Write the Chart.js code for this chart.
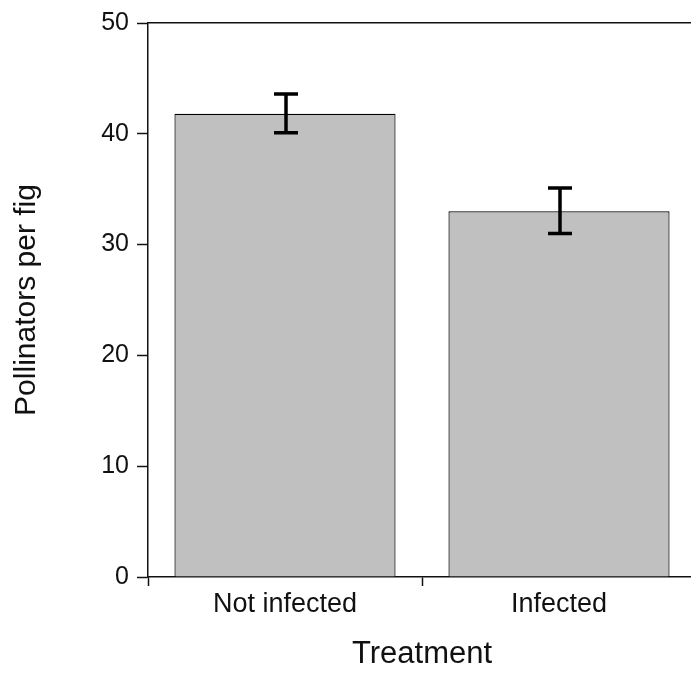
<!DOCTYPE html>
<html>
<head>
<meta charset="utf-8">
<script src="https://cdn.jsdelivr.net/npm/chart.js@4.4.0/dist/chart.umd.min.js"></script>
<style>
  html, body { margin: 0; padding: 0; background: #fff; overflow: hidden; }
  #wrap { width: 691px; height: 673px; overflow: hidden; }
</style>
</head>
<body>
<div id="wrap">
  <canvas id="chart" width="700" height="673"></canvas>
</div>
<script>
// Data
const categories = ["Not infected", "Infected"];
const pollinators = [41.8, 33.0];
const errorLow = [40.1, 31.0];
const errorHigh = [43.6, 35.1];
const yTicks = [0, 10, 20, 30, 40, 50];

const fontFamily = "'Liberation Sans', Arial, sans-serif";
const textColor = "#111";

// Error bars drawn on top of the bars
const errorBarPlugin = {
  id: "errorBars",
  afterDatasetsDraw(chart) {
    const ctx = chart.ctx;
    const xScale = chart.scales.x;
    const yScale = chart.scales.y;
    const cap = 12;
    ctx.save();
    ctx.strokeStyle = "#000";
    ctx.lineWidth = 3.5;
    categories.forEach((cat, i) => {
      const x = xScale.getPixelForValue(i) + 1;
      const yLow = yScale.getPixelForValue(errorLow[i]);
      const yHigh = yScale.getPixelForValue(errorHigh[i]);
      ctx.beginPath();
      ctx.moveTo(x, yLow);
      ctx.lineTo(x, yHigh);
      ctx.moveTo(x - cap, yLow);
      ctx.lineTo(x + cap, yLow);
      ctx.moveTo(x - cap, yHigh);
      ctx.lineTo(x + cap, yHigh);
      ctx.stroke();
    });
    ctx.restore();
  }
};

const ctx = document.getElementById("chart").getContext("2d");
new Chart(ctx, {
  type: "bar",
  data: {
    labels: categories,
    datasets: [{
      label: "Pollinators per fig",
      data: pollinators,
      backgroundColor: "#c0c0c0",
      borderColor: "#000",
      borderWidth: 1.2,
      categoryPercentage: 1,
      barPercentage: 0.807,
    }],
  },
  options: {
    responsive: false,
    animation: false,
    devicePixelRatio: 1,
    layout: { padding: { top: 22, right: 4, bottom: 0, left: 0 } },
    plugins: {
      legend: { display: false },
      tooltip: { enabled: false },
    },
    scales: {
      x: {
        position: "bottom",
        offset: true,
        afterFit: (scale) => { scale.height = 96; },
        grid: {
          offset: true,
          drawOnChartArea: false,
          drawTicks: true,
          tickLength: 9,
          tickWidth: 1.5,
          tickColor: "#111",
        },
        border: { display: true, color: "#111", width: 1.5 },
        ticks: {
          padding: 2,
          color: textColor,
          font: { family: fontFamily, size: 27 },
        },
        title: {
          display: true,
          text: "Treatment",
          color: textColor,
          padding: { top: 0, bottom: 0 },
          font: { family: fontFamily, size: 31 },
        },
      },
      xTop: {
        position: "top",
        type: "category",
        labels: categories,
        grid: { drawOnChartArea: false, drawTicks: false },
        border: { display: true, color: "#111", width: 1.5 },
        ticks: { display: false },
      },
      y: {
        min: 0,
        max: 50,
        afterFit: (scale) => { scale.width = 148; },
        afterBuildTicks: (scale) => { scale.ticks = yTicks.map(v => ({ value: v })); },
        grid: {
          drawOnChartArea: false,
          drawTicks: true,
          tickLength: 11,
          tickWidth: 1.5,
          tickColor: "#111",
        },
        border: { display: true, color: "#111", width: 1.5 },
        ticks: {
          padding: 8,
          color: textColor,
          font: { family: fontFamily, size: 25 },
        },
        title: {
          display: true,
          text: "Pollinators per fig",
          color: textColor,
          padding: { top: 9, bottom: 0 },
          font: { family: fontFamily, size: 30 },
        },
      },
    },
  },
  plugins: [errorBarPlugin],
});
</script>
</body>
</html>
